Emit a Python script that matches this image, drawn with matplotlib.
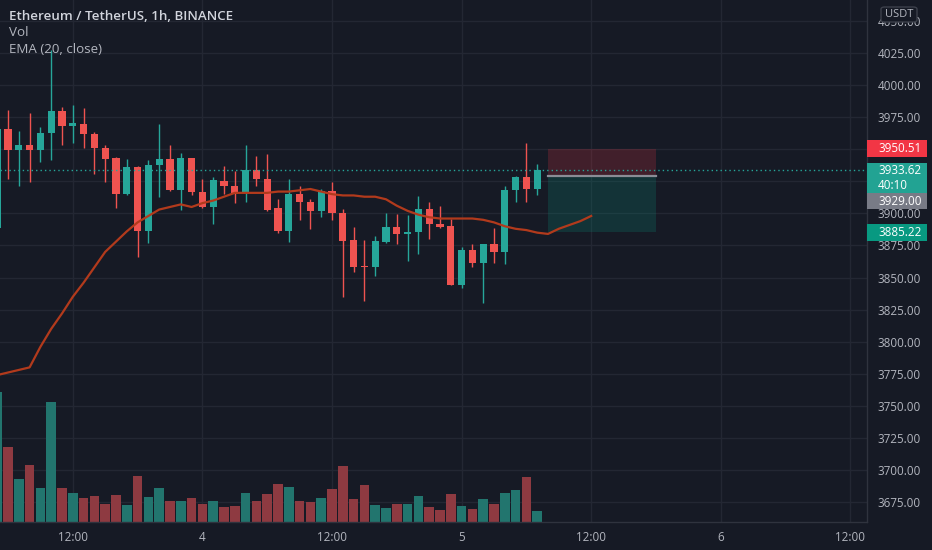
import matplotlib.pyplot as plt
from matplotlib.patches import Rectangle, FancyBboxPatch
from matplotlib.transforms import blended_transform_factory

plt.rcParams['font.family'] = ['Open Sans', 'DejaVu Sans']

# ETH/USDT 1h candles, bar 0 is the partly hidden one on the left edge
opens = [3889, 3966, 3949.5, 3953, 3949.5, 3963, 3979.5, 3968, 3970, 3962,
         3951, 3943, 3915.5, 3936.5, 3886.5, 3937.5, 3942.5, 3918, 3943.5, 3917,
         3905, 3925, 3921, 3916, 3933.5, 3927, 3904, 3886, 3915, 3909,
         3901.5, 3917.5, 3900.5, 3879, 3859, 3858, 3878, 3889.5, 3884, 3885.5,
         3903.5, 3892, 3890.5, 3844.5, 3871.5, 3861.5, 3876, 3870, 3918, 3928,
         3919]
highs = [3970, 3980.5, 3964, 3978.5, 3967, 4027, 3983, 3984.5, 3982, 3963.5,
         3953, 3944, 3942.5, 3937, 3941.5, 3969.5, 3953.5, 3947, 3943.5, 3927,
         3928, 3937, 3933, 3953, 3944.5, 3946.5, 3911.5, 3927, 3921, 3911,
         3919, 3924.5, 3903.5, 3889.5, 3879, 3882.5, 3900.5, 3899.5, 3898.5, 3913.5,
         3908.5, 3905.5, 3895.5, 3874, 3876, 3876.5, 3889, 3921.5, 3929.5, 3954.5,
         3938.5]
lows = [3884, 3926.5, 3921.5, 3924.5, 3940, 3942, 3953.5, 3954.5, 3951, 3930.5,
        3924.5, 3904.5, 3914, 3866, 3877, 3913, 3917.5, 3902.5, 3914, 3904.5,
        3892, 3915.5, 3908, 3908.5, 3921, 3902, 3884.5, 3878, 3895, 3887.5,
        3897, 3895, 3835, 3854.5, 3832, 3851.5, 3877, 3876, 3863, 3868,
        3880, 3888.5, 3844, 3842, 3858.5, 3830, 3861.5, 3860.5, 3908.5, 3909,
        3914]
closes = [3966, 3949.5, 3953, 3949.5, 3963, 3979.5, 3968, 3970.5, 3962, 3951,
          3942.5, 3915.5, 3936.5, 3886.5, 3937.5, 3942.5, 3918, 3943.5, 3917, 3905,
          3926, 3921, 3915.5, 3933.5, 3926.5, 3903, 3886, 3915, 3908.5, 3901.5,
          3917.5, 3900, 3878.5, 3858.5, 3858, 3878.5, 3889.5, 3884, 3885.5, 3903.5,
          3891.5, 3889.5, 3844.5, 3871.5, 3861, 3876, 3870, 3918, 3928, 3919,
          3933.62]
volumes = [13.0, 7.5, 4.3, 5.7, 3.4, 12.0, 3.4, 2.9, 2.4, 2.6,
           1.8, 2.7, 1.7, 4.6, 2.5, 3.4, 2.1, 2.1, 2.4, 1.8,
           2.1, 1.5, 1.6, 2.9, 2.1, 2.8, 3.8, 3.5, 2.1, 2.0,
           2.4, 3.3, 5.6, 2.3, 3.7, 1.7, 1.4, 1.8, 1.8, 2.6,
           1.5, 1.2, 2.8, 1.6, 1.3, 2.3, 1.8, 2.9, 3.2, 4.5,
           1.1]
# EMA(20, close) as drawn, runs a few bars past the last candle
ema = [3774, 3776, 3778, 3780, 3796, 3810, 3822, 3835, 3846, 3858,
       3870, 3878, 3886, 3893, 3898, 3903, 3905, 3907, 3905, 3908,
       3910, 3913, 3916, 3916, 3916, 3916, 3917, 3917, 3918, 3919,
       3917, 3915, 3914, 3914, 3913, 3913, 3911, 3906, 3902, 3899,
       3897, 3896, 3896, 3896, 3896, 3895, 3893, 3890, 3888, 3887,
       3885, 3884, 3888, 3891, 3894, 3898]

# short position tool
entry_price = 3929.00
stop_price = 3950.51
target_price = 3885.22
position_bars = (51, 61)
countdown = "40:10"

time_ticks = [7, 19, 31, 43, 55, 67, 79]
time_labels = ["12:00", "4", "12:00", "5", "12:00", "6", "12:00"]
price_ticks = list(range(3675, 4051, 25))
hidden_ticks = [3925, 3950]  # sit under the price-scale badges

bg = '#161a25'
grid_c = '#232733'
text_c = '#b2b5be'
up_c = '#26a69a'
down_c = '#ef5350'
up_vol = '#22756e'
down_vol = '#8e3a41'

fig = plt.figure(figsize=(9.32, 5.5), dpi=100, facecolor=bg)
ax = fig.add_axes([0, 28 / 550, 867 / 932, 522 / 550])
ax.set_facecolor(bg)
ax.set_xlim(0.26, 80.54)
ax.set_ylim(3659.5, 4066.3)
ax.set_axisbelow(True)

# volume overlay, scaled so the biggest bar fills a quarter of the pane
vol_top = max(volumes) / 0.25
vol_trans = blended_transform_factory(ax.transData, ax.transAxes)
xs = list(range(len(opens)))
for i in xs:
    up = closes[i] >= opens[i]
    ax.bar(i, volumes[i] / vol_top, width=0.88, bottom=0,
           color=up_vol if up else down_vol, transform=vol_trans, zorder=1)

# candles
for i in xs:
    o, h, l, c = opens[i], highs[i], lows[i], closes[i]
    col = up_c if c >= o else down_c
    ax.vlines(i, l, h, color=col, lw=1, zorder=3)
    ax.bar(i, max(abs(c - o), 1.0), bottom=min(o, c), width=0.66, color=col, zorder=4)

ax.plot(range(len(ema)), ema, color='#b23a1c', lw=1.6, zorder=5)

# position tool boxes
p0, p1 = position_bars
ax.add_patch(Rectangle((p0, entry_price), p1 - p0, stop_price - entry_price,
                       facecolor='#f23645', alpha=0.2, edgecolor='none', zorder=2))
ax.add_patch(Rectangle((p0, target_price), p1 - p0, entry_price - target_price,
                       facecolor='#089981', alpha=0.2, edgecolor='none', zorder=2))
ax.plot([p0, p1], [entry_price, entry_price], color='#8a8d96', lw=1.6, zorder=6)

# last price dotted line
ax.axhline(closes[-1], color=up_c, lw=1, ls=(0, (1, 2.2)), zorder=6)

ax.set_xticks(time_ticks)
ax.set_xticklabels(time_labels)
ax.set_yticks(price_ticks)
ax.set_yticklabels(["" if p in hidden_ticks else "%.2f" % p for p in price_ticks])
ax.yaxis.tick_right()
ax.tick_params(axis='y', length=0, pad=7.5, labelcolor=text_c, labelsize=8.4)
ax.tick_params(axis='x', length=0, pad=6.5, labelcolor=text_c, labelsize=8.4)
ax.grid(True, color=grid_c, lw=1)
for side in ['top', 'left']:
    ax.spines[side].set_visible(False)
for side in ['bottom', 'right']:
    ax.spines[side].set_color('#2f333e')
    ax.spines[side].set_linewidth(1)

# price-scale labels
lab_trans = blended_transform_factory(ax.transAxes, ax.transData)
unit = (4066.3 - 3659.5) / 522.0  # price per pixel
box_w = 60 / 867


def price_box(center, half_up, half_down, color, lines):
    ax.add_patch(Rectangle((1.0, center - half_down * unit), box_w, (half_up + half_down) * unit,
                           transform=lab_trans, facecolor=color, edgecolor='none',
                           clip_on=False, zorder=20))
    for k, s in enumerate(lines):
        ax.text(1.0 + 11 / 867, center - k * 15 * unit, s, transform=lab_trans,
                color='white', fontsize=8.4, va='center', ha='left', clip_on=False, zorder=21)


price_box(stop_price, 8.3, 8.3, '#f23645', ["%.2f" % stop_price])
price_box(closes[-1], 7.5, 23, '#22a393', ["%.2f" % closes[-1], countdown])
gray_center = closes[-1] - 31 * unit
price_box(gray_center, 8, 8, '#787b86', ["%.2f" % entry_price])
price_box(target_price, 8.2, 8.2, '#089981', ["%.2f" % target_price])

# currency badge on the price scale
fig.patches.append(FancyBboxPatch((881 / 932, 1 - 22 / 550), 36 / 932, 15 / 550,
                                  boxstyle='round,pad=0,rounding_size=0.004',
                                  transform=fig.transFigure, facecolor=bg,
                                  edgecolor='#3c404b', lw=1, zorder=30))
fig.text(899 / 932, 1 - 14.5 / 550, "USDT", color=text_c, fontsize=8, ha='center',
         va='center', zorder=31)

# legend text top left
fig.text(9 / 932, 1 - 16 / 550, "Ethereum / TetherUS, 1h, BINANCE", color='#d1d4dc',
         fontsize=9.6, fontweight='semibold', ha='left', va='center')
fig.text(9 / 932, 1 - 33 / 550, "Vol", color=text_c, fontsize=9.6, ha='left', va='center')
fig.text(9 / 932, 1 - 49.5 / 550, "EMA (20, close)", color=text_c, fontsize=9.6,
         ha='left', va='center')

fig.savefig("out.png", dpi=100, facecolor=bg)
